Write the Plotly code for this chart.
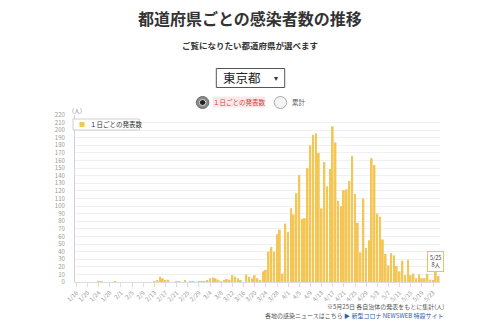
import datetime as dt
import plotly.graph_objects as go

# ---- data: Tokyo, daily announced cases 1/16 .. 5/25 ----
start = dt.date(2020, 1, 16)
jan = [0, 0, 0, 0, 0, 0, 0, 0, 1, 1, 0, 0, 0, 0, 1, 0]            # 1/16-1/31
feb = [0, 0, 0, 0, 0, 0, 0, 0, 0, 0, 0, 0, 1, 2, 7, 5, 2, 3, 0, 0,
       1, 1, 0, 2, 0, 1, 1, 0, 1]                                  # 2/1-2/29
mar = [1, 1, 2, 5, 6, 5, 3, 1, 2, 4, 3, 9, 7, 5, 2, 0, 10, 7, 5, 9,
       5, 2, 14, 16, 40, 46, 40, 63, 69, 11, 77]                   # 3/1-3/31
apr = [66, 97, 89, 117, 141, 83, 84, 150, 180, 194, 196, 170, 97, 158,
       126, 149, 205, 184, 107, 100, 121, 122, 133, 166, 116, 78, 39,
       110, 45, 55]                                                # 4/1-4/30
may = [163, 154, 90, 86, 56, 37, 22, 38, 35, 21, 14, 28, 9, 29, 9, 11,
       5, 10, 5, 5, 11, 3, 2, 14, 8]                               # 5/1-5/25
values = jan + feb + mar + apr + may
dates = [(start + dt.timedelta(days=i)) for i in range(len(values))]
labels = [f"{d.month}/{d.day}" for d in dates]
tick_labels = labels[::4]
y_ticks = list(range(0, 221, 10))

series_name = "１日ごとの発表数"
bar_color = "#f3c655"
FONT = "Noto Sans CJK JP"

# ---- layout geometry (pixels) ----
W, H = 500, 324
L, R, T, B = 75, 440.5, 115, 282


def px(x):
    return (x - L) / (R - L)


def py(y):
    return (B - y) / (B - T)


fig = go.Figure()
fig.add_trace(go.Bar(x=labels, y=values, name=series_name,
                     marker=dict(color=bar_color, line=dict(width=0)),
                     showlegend=False))

fig.update_layout(
    width=W, height=H,
    margin=dict(l=L, r=W - R, t=T, b=H - B, autoexpand=False),
    paper_bgcolor="white", plot_bgcolor="white",
    font=dict(family=FONT, color="#333"),
    bargap=0.35,
    showlegend=False,
)
fig.update_xaxes(type="category", range=[-0.5, len(values) - 0.5],
                 tickmode="array", tickvals=tick_labels, ticktext=tick_labels,
                 tickangle=-45, tickfont=dict(size=6, color="#999"),
                 ticks="outside", ticklen=4, tickcolor="#ddd",
                 showline=True, linecolor="#ddd", linewidth=1,
                 showgrid=False, fixedrange=True)
fig.update_yaxes(range=[0, 220], tickmode="array", tickvals=y_ticks,
                 tickfont=dict(size=6, color="#999"),
                 showgrid=True, gridcolor="#f0f0f0", gridwidth=1,
                 showline=True, linecolor="#cfd3dc", linewidth=1,
                 ticklabelstandoff=8, zeroline=False, fixedrange=True)

ann = []
shapes = []
# title and subtitle
ann.append(dict(x=px(250), y=py(18), xref="paper", yref="paper", xanchor="center", yanchor="middle",
                text="<b>都道府県ごとの感染者数の推移</b>", showarrow=False,
                font=dict(size=16, color="#333", family=FONT)))
ann.append(dict(x=px(250), y=py(45), xref="paper", yref="paper", xanchor="center", yanchor="middle",
                text="<b>ご覧になりたい都道府県が選べます</b>", showarrow=False,
                font=dict(size=8.5, color="#333", family=FONT)))
# dropdown
shapes.append(dict(type="rect", xref="paper", yref="paper",
                   x0=px(216.5), x1=px(285), y0=py(87.5), y1=py(68.5),
                   line=dict(color="#555", width=1), fillcolor="white"))
ann.append(dict(x=px(221), y=py(78), xref="paper", yref="paper", xanchor="left", yanchor="middle",
                text="東京都", showarrow=False, font=dict(size=12.5, color="#222", family=FONT)))
ann.append(dict(x=px(276), y=py(77), xref="paper", yref="paper", xanchor="center", yanchor="middle",
                text="▾", showarrow=False, font=dict(size=8, color="#333", family=FONT)))
# radio buttons
shapes.append(dict(type="circle", xref="paper", yref="paper",
                   x0=px(196.5), x1=px(209), y0=py(108.5), y1=py(96.5),
                   line=dict(color="#666", width=1), fillcolor="#8a8a8a"))
shapes.append(dict(type="circle", xref="paper", yref="paper",
                   x0=px(199.5), x1=px(206), y0=py(105.5), y1=py(99.5),
                   line=dict(color="#ddd", width=1), fillcolor="#222"))
ann.append(dict(x=px(212), y=py(102.5), xref="paper", yref="paper", xanchor="left", yanchor="middle",
                text="１日ごとの発表数", showarrow=False, bgcolor="#fbe9ea", borderpad=0,
                font=dict(size=6.5, color="#d04040", family=FONT)))
shapes.append(dict(type="circle", xref="paper", yref="paper",
                   x0=px(274.5), x1=px(287), y0=py(108.5), y1=py(96.5),
                   line=dict(color="#aaa", width=1), fillcolor="#f4f4f4"))
ann.append(dict(x=px(290), y=py(102.5), xref="paper", yref="paper", xanchor="left", yanchor="middle",
                text="累計", showarrow=False, font=dict(size=6.5, color="#555", family=FONT)))
# unit label
ann.append(dict(x=px(70), y=py(110), xref="paper", yref="paper", xanchor="left", yanchor="middle",
                text="(人)", showarrow=False, font=dict(size=6, color="#888", family=FONT)))
# legend box
shapes.append(dict(type="rect", xref="paper", yref="paper",
                   x0=px(73), x1=px(139.5), y0=py(130), y1=py(119),
                   line=dict(color="#cfcfcf", width=1), fillcolor="white"))
shapes.append(dict(type="rect", xref="paper", yref="paper",
                   x0=px(79.5), x1=px(84.5), y0=py(127), y1=py(122),
                   line=dict(width=0), fillcolor=bar_color))
ann.append(dict(x=px(88), y=py(124.5), xref="paper", yref="paper", xanchor="left", yanchor="middle",
                text=series_name, showarrow=False, font=dict(size=6.5, color="#333", family=FONT)))
# tooltip on last bar
ann.append(dict(x=labels[-1], y=values[-1], xref="x", yref="y", xanchor="center", yanchor="bottom",
                xshift=-3, yshift=4, text=f"{labels[-1]}<br>{values[-1]}人", showarrow=False,
                bgcolor="white", bordercolor="#e9c35c", borderwidth=1, borderpad=2,
                font=dict(size=5.5, color="#333", family=FONT)))
# footnotes
ann.append(dict(x=px(447), y=py(306), xref="paper", yref="paper", xanchor="right", yanchor="middle",
                text="※5月25日 各自治体の発表をもとに集計(人)", showarrow=False,
                font=dict(size=6, color="#555", family=FONT)))
ann.append(dict(x=px(447), y=py(315), xref="paper", yref="paper", xanchor="right", yanchor="middle",
                text="各地の感染ニュースはこちら <span style='color:#2a5db0'>▶ 新型コロナ NEWSWEB 特設サイト</span>",
                showarrow=False, font=dict(size=6, color="#555", family=FONT)))

fig.update_layout(annotations=ann, shapes=shapes)
fig.write_html("out.html", config={"displayModeBar": False})
